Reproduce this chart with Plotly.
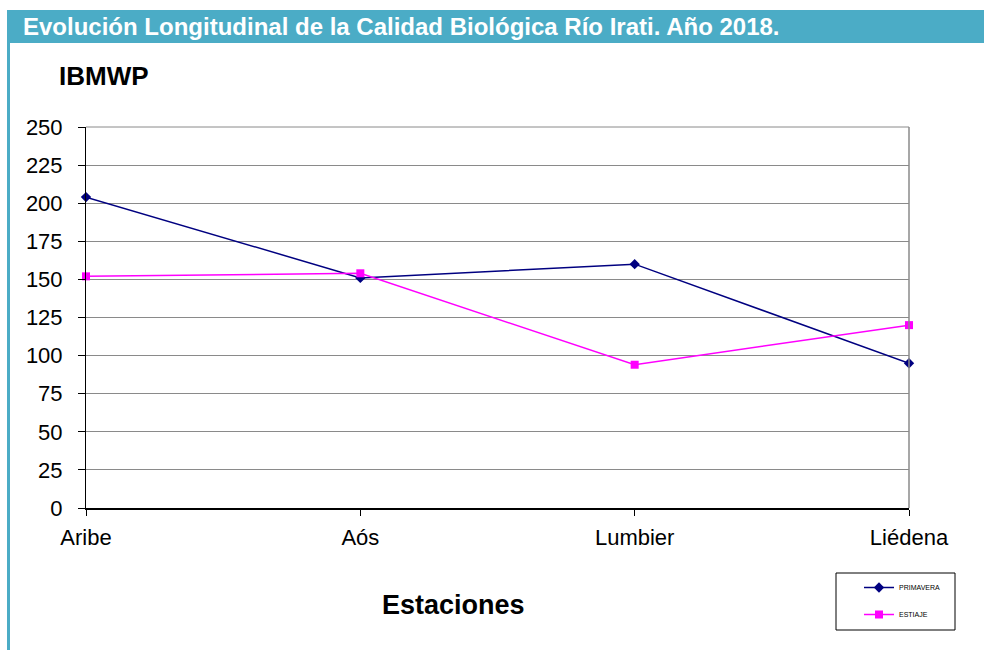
import plotly.graph_objects as go

estaciones = ["Aribe", "Aós", "Lumbier", "Liédena"]
primavera = [204, 151, 160, 95]
estiaje = [152, 154, 94, 120]
y_ticks = [0, 25, 50, 75, 100, 125, 150, 175, 200, 225, 250]

FONT = "Liberation Sans, Arial, sans-serif"
TEAL = "#4BACC6"

fig = go.Figure()
fig.add_trace(go.Scatter(
    x=estaciones, y=primavera, name="PRIMAVERA", mode="lines+markers",
    line=dict(color="#000080", width=1.5),
    marker=dict(symbol="diamond", size=8, color="#000080"),
    legendgroup="a", cliponaxis=False))
fig.add_trace(go.Scatter(
    x=estaciones, y=estiaje, name="ESTIAJE", mode="lines+markers",
    line=dict(color="#FF00FF", width=1.5),
    marker=dict(symbol="square", size=8, color="#FF00FF"),
    legendgroup="b", cliponaxis=False))

PW, PH = 823, 381  # plot area size in px
def px(x):
    return (x - 86) / PW
def py(y):
    return (508 - y) / PH

fig.update_layout(
    width=984, height=650, autosize=False,
    margin=dict(l=86, r=75, t=127, b=142),
    paper_bgcolor="white", plot_bgcolor="white",
    font=dict(family=FONT, color="black"),
    showlegend=True,
    legend=dict(x=px(859), y=py(573), xanchor="left", yanchor="top",
                font=dict(size=7, family=FONT, color="black"),
                bgcolor="rgba(0,0,0,0)", borderwidth=0,
                tracegroupgap=8),
    xaxis=dict(type="category", range=[0, 3], showgrid=False,
               showline=True, linecolor="black", linewidth=1.5,
               ticks="outside", ticklen=6, tickcolor="black",
               tickfont=dict(size=22, family=FONT, color="black"),
               ticklabelstandoff=3, zeroline=False),
    yaxis=dict(range=[0, 250], tickvals=y_ticks, showgrid=True,
               gridcolor="#8a8a8a", gridwidth=1,
               showline=True, linecolor="black", linewidth=1,
               ticks="outside", ticklen=7, tickcolor="black",
               tickfont=dict(size=22, family=FONT, color="black"),
               ticklabelstandoff=11, zeroline=False),
    shapes=[
        dict(type="rect", xref="paper", yref="paper", x0=px(7), x1=px(990),
             y0=py(43), y1=py(10),
             fillcolor=TEAL, line=dict(width=0), layer="below"),
        dict(type="rect", xref="paper", yref="paper", x0=px(7), x1=px(10),
             y0=py(652), y1=py(43),
             fillcolor=TEAL, line=dict(width=0)),
        dict(type="line", xref="paper", yref="paper", x0=1, x1=1, y0=0, y1=1,
             line=dict(color="#8a8a8a", width=1.5)),
        dict(type="line", xref="paper", yref="paper", x0=0, x1=1, y0=1, y1=1,
             line=dict(color="#8a8a8a", width=1)),
        dict(type="rect", xref="paper", yref="paper",
             x0=px(836), x1=px(955), y0=py(630), y1=py(573),
             fillcolor="rgba(0,0,0,0)", line=dict(color="black", width=1)),
    ],
    annotations=[
        dict(text="<b>Evolución Longitudinal de la Calidad Biológica Río Irati. Año 2018.</b>",
             xref="paper", yref="paper", x=px(21), y=py(27),
             xanchor="left", yanchor="middle", showarrow=False,
             font=dict(size=24, family=FONT, color="white")),
        dict(text="<b>IBMWP</b>", xref="paper", yref="paper",
             x=px(57), y=py(76), xanchor="left", yanchor="middle",
             showarrow=False, font=dict(size=26, family=FONT, color="black")),
        dict(text="<b>Estaciones</b>", xref="paper", yref="paper",
             x=px(453), y=py(605), xanchor="center", yanchor="middle",
             showarrow=False, font=dict(size=27, family=FONT, color="black")),
    ],
)

fig.write_html("out.html", config={"displayModeBar": False},
               post_script="document.body.style.margin='0';")
